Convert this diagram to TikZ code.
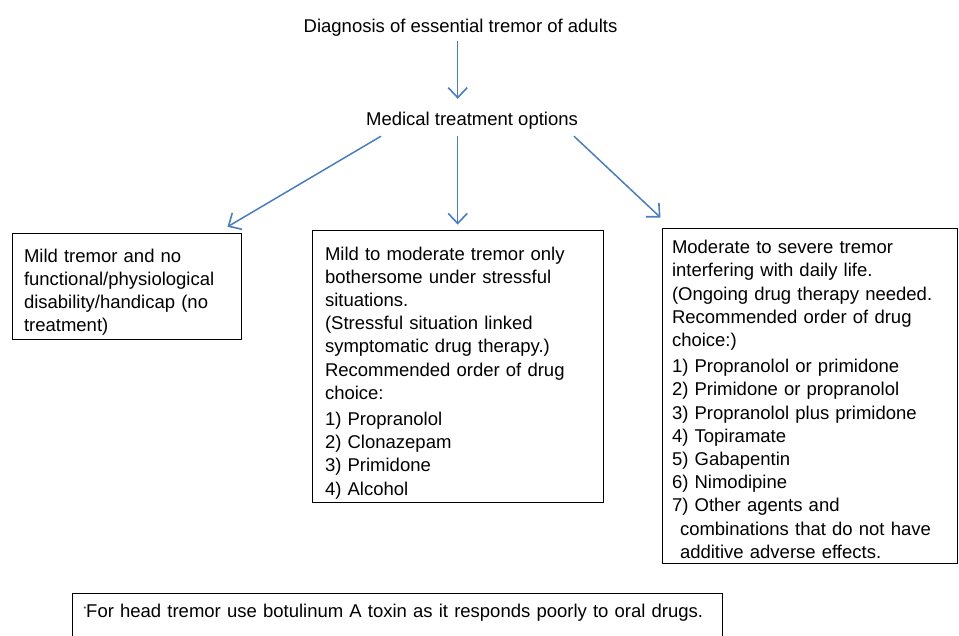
\documentclass[tikz,border=0pt]{standalone}
\usepackage{fontspec}
\setmainfont{Liberation Sans}
\usetikzlibrary{arrows.meta,calc}
\definecolor{arrowblue}{RGB}{74,126,187}
\tikzset{
  every node/.style={font=\fontsize{18.5}{23.2}\selectfont},
  lbl/.style={inner sep=0pt, text height=13pt, text depth=4pt},
  tbox/.style={draw=black, line width=1pt, align=left, inner ysep=4pt},
  arr/.style={draw=arrowblue, line width=1.5pt,
    -{Straight Barb[length=10pt,width=19pt,line width=1.6pt]}}
}
\begin{document}
\begin{tikzpicture}[x=1pt,y=-1pt]
\useasboundingbox (0,0) rectangle (959,635);

\node[lbl] (title) at (460.5,27.5) {Diagnosis of essential tremor of adults};
\node[lbl] (med) at (472,121) {Medical treatment options};

\node[tbox, inner xsep=12pt, text width=205pt, minimum width=229pt, minimum height=105pt]
  (b1) at (126.5,286.5)
  {\rule{0pt}{25pt}Mild tremor and no\\ functional/physiological\\ disability/handicap (no\\ treatment)};

\node[tbox, inner xsep=13pt, text width=265pt, minimum width=291pt, minimum height=267pt]
  (b2) at (457.5,366.5)
  {\rule{0pt}{26pt}Mild to moderate tremor only\\ bothersome under stressful\\ situations.\\ (Stressful situation linked\\ symptomatic drug therapy.)\\ Recommended order of drug\\ choice:\\[3pt] 1) Propranolol\\ 2) Clonazepam\\ 3) Primidone\\ 4) Alcohol};

\node[tbox, inner xsep=10pt, text width=275pt, minimum width=295pt, minimum height=335pt]
  (b3) at (809.5,395.5)
  {\rule{0pt}{21pt}Moderate to severe tremor\\ interfering with daily life.\\ (Ongoing drug therapy needed.\\ Recommended order of drug\\ choice:)\\[3pt] 1) Propranolol or primidone\\ 2) Primidone or propranolol\\ 3) Propranolol plus primidone\\ 4) Topiramate\\ 5) Gabapentin\\ 6) Nimodipine\\ 7) Other agents and\\ \hspace*{8pt}combinations that do not have\\ \hspace*{8pt}additive adverse effects.};

\node[draw=black, line width=1pt, anchor=north west, align=left, inner xsep=5pt, inner ysep=11pt,
  text width=640pt, text height=13pt, text depth=60pt]
  (foot) at (72,593)
  {\hspace*{6pt}\raisebox{6pt}{\fontsize{7}{7}\selectfont *}For head tremor use botulinum A toxin as it responds poorly to oral drugs.};

\draw[arr] ($(title.south)+(-2.8,5)$) -- ($(med.north)+(-14.3,-13.5)$);
\draw[arr] ($(med.south)+(-91,6.5)$) -- ($(b1.north east)+(-14,-6)$);
\draw[arr] ($(med.south)+(-14.3,6.5)$) -- ($(b2.north)+(0.2,-5)$);
\draw[arr] ($(med.south)+(102,6.5)$) -- ($(b3.north west)+(-1,-10)$);
\end{tikzpicture}
\end{document}
